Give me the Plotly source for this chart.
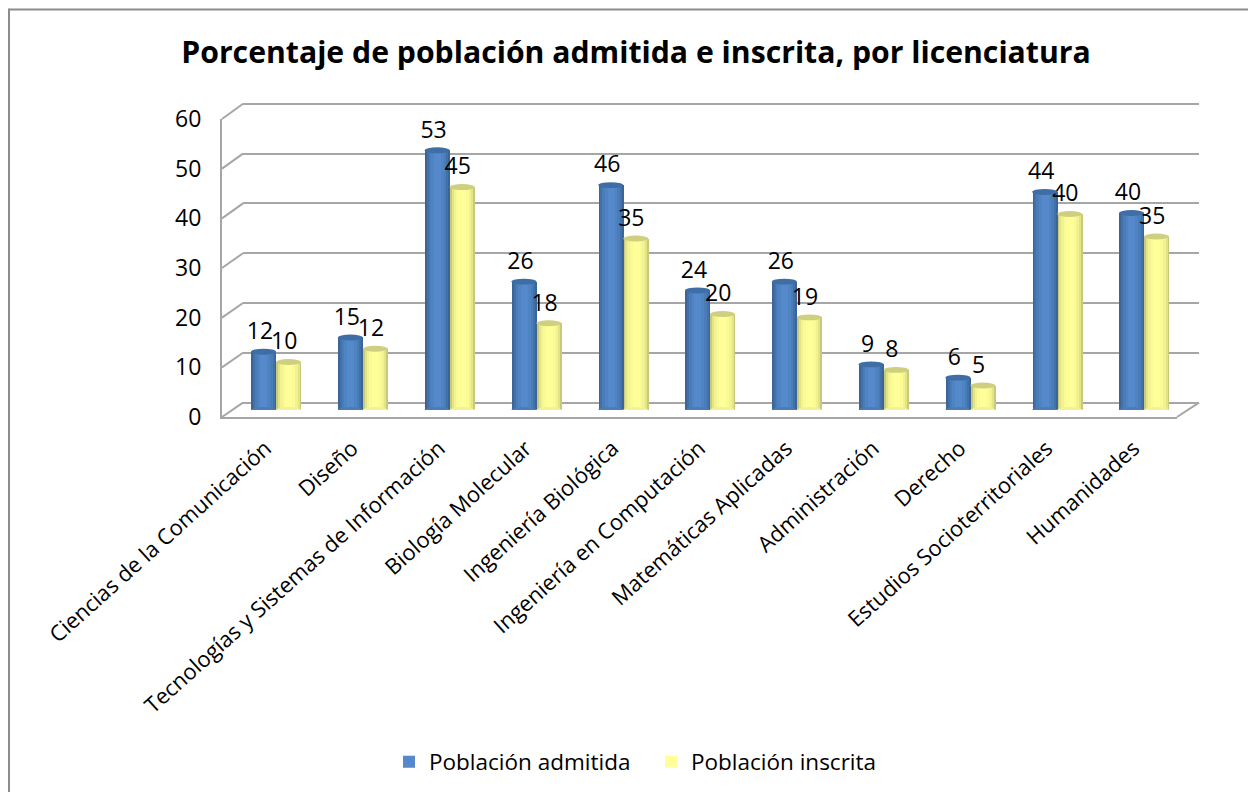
import plotly.graph_objects as go

categories = ["Ciencias de la Comunicación", "Diseño", "Tecnologías y Sistemas de Información",
              "Biología Molecular", "Ingeniería Biológica", "Ingeniería en Computación",
              "Matemáticas Aplicadas", "Administración", "Derecho",
              "Estudios Socioterritoriales", "Humanidades"]
admitida = [11.9, 14.8, 53.0, 26.2, 45.9, 24.4, 26.2, 9.3, 6.6, 44.5, 40.2]
inscrita = [9.8, 12.5, 45.5, 17.7, 35.0, 19.6, 18.9, 8.2, 5.0, 40.0, 35.4]
admitida_labels = ["12", "15", "53", "26", "46", "24", "26", "9", "6", "44", "40"]
inscrita_labels = ["10", "12", "45", "18", "35", "20", "19", "8", "5", "40", "35"]
y_ticks = [0, 10, 20, 30, 40, 50, 60]

W, H = 1248, 792
FONT = "Open Sans"
TXT = "#000000"
GRID = "#a6a6a6"
idx = list(range(len(categories)))

def px(v): return v / W
def py(v): return 1 - v / H

fig = go.Figure()
n = len(categories)
CW = 86.8
BAR_W = 25 / CW
BLUE_LAYERS = ["#3a6596", "#4270a8", "#4a7cb8", "#4f84c3", "#5589cc"]
YEL_LAYERS = ["#c9c97c", "#e3e388", "#f2f290", "#fbfb96", "#ffff99"]
SCALES = [1.0, 0.86, 0.7, 0.5, 0.28]

fig.add_trace(go.Scatter(x=[0], y=[0], xaxis="x", yaxis="y", mode="markers",
                         marker=dict(opacity=0), showlegend=False, hoverinfo="skip"))
fig.add_trace(go.Scatter(x=[0], y=[0], xaxis="x2", yaxis="y2", mode="markers",
                         marker=dict(opacity=0), showlegend=False, hoverinfo="skip"))

def add_cyl(vals, name, layers, center):
    for k, (c, s) in enumerate(zip(layers, SCALES)):
        w = BAR_W * s
        fig.add_trace(go.Bar(x=idx, y=vals, width=w, offset=center - w / 2,
                             marker=dict(color=c, line=dict(width=0)), name=name,
                             showlegend=(k == len(layers) - 1), xaxis="x3", yaxis="y3",
                             hoverinfo="skip"))

add_cyl(admitida, "Población admitida", BLUE_LAYERS, -BAR_W / 2)
add_cyl(inscrita, "Población inscrita", YEL_LAYERS, BAR_W / 2)

LABEL_LIFT = 1.4
fig.add_trace(go.Scatter(x=[i - 0.04 - BAR_W / 2 for i in idx], y=[v + LABEL_LIFT for v in admitida],
                         text=admitida_labels, mode="text", textposition="top center", showlegend=False,
                         xaxis="x3", yaxis="y3", hoverinfo="skip",
                         textfont=dict(family=FONT, size=23, color=TXT), cliponaxis=False))
fig.add_trace(go.Scatter(x=[i - 0.05 + BAR_W / 2 for i in idx], y=[v + LABEL_LIFT for v in inscrita],
                         text=inscrita_labels, mode="text", textposition="top center", showlegend=False,
                         xaxis="x3", yaxis="y3", hoverinfo="skip",
                         textfont=dict(family=FONT, size=23, color=TXT), cliponaxis=False))

shapes = []
CAP = 0.6
for vals, fill, base, center in [(admitida, "#3f6ea6", "#4a7cb8", -BAR_W / 2),
                                 (inscrita, "#cfcf80", "#f2f290", BAR_W / 2)]:
    for i, v in zip(idx, vals):
        shapes.append(dict(type="circle", xref="x3", yref="y3", x0=i + center - BAR_W / 2,
                           x1=i + center + BAR_W / 2, y0=v - CAP, y1=v + CAP,
                           fillcolor=fill, line=dict(width=0), layer="above"))
        shapes.append(dict(type="circle", xref="x3", yref="y3", x0=i + center - BAR_W / 2,
                           x1=i + center + BAR_W / 2, y0=-CAP, y1=CAP,
                           fillcolor=base, line=dict(width=0), layer="above"))

FX0, FX1, FY0, FSTEP = 222, 1177, 417, 49.67
BX0, BX1, BY0, BSTEP = 243, 1199, 402.6, 49.8
for k, t in enumerate(y_ticks):
    shapes.append(dict(type="line", xref="paper", yref="paper", x0=px(FX0), x1=px(BX0),
                       y0=py(FY0 - k * FSTEP), y1=py(BY0 - k * BSTEP),
                       line=dict(color=GRID, width=2), layer="below"))
shapes.append(dict(type="line", xref="paper", yref="paper", x0=px(FX1), x1=px(BX1),
                   y0=py(FY0), y1=py(BY0), line=dict(color=GRID, width=2), layer="below"))
# chart frame: only the top and left edges fall inside the picture
shapes.append(dict(type="line", xref="paper", yref="paper", x0=px(9), x1=1, y0=py(9.5), y1=py(9.5),
                   line=dict(color="#8c8c8c", width=2), layer="below"))
shapes.append(dict(type="line", xref="paper", yref="paper", x0=px(9), x1=px(9), y0=py(8.5), y1=py(792),
                   line=dict(color="#8c8c8c", width=2), layer="below"))

def ydom(top, bottom): return [1 - bottom / H, 1 - top / H]
def xdom(l, r): return [l / W, r / W]

common = dict(showgrid=False, zeroline=False, showline=False, showticklabels=False, ticks="")
PAD = 1  # axis units kept free above 60 so that the top gridline is not clipped
fig.update_layout(
    width=W, height=H, margin=dict(l=0, r=0, t=0, b=0, autoexpand=False),
    paper_bgcolor="white", plot_bgcolor="rgba(0,0,0,0)", barmode="overlay", bargap=0,
    font=dict(family=FONT, size=20, color=TXT),
    title=dict(text="<b>Porcentaje de población admitida e inscrita, por licenciatura</b>",
               x=636 / W, xanchor="center", y=1 - 52 / H, yanchor="middle",
               font=dict(family=FONT, size=30.2, color=TXT)),
    xaxis=dict(domain=xdom(BX0, BX1), range=[-0.5, n - 0.5], anchor="y", **common),
    yaxis=dict(domain=ydom(BY0 - (60 + PAD) / 10 * BSTEP, BY0), range=[0, 60 + PAD], anchor="x", showgrid=True,
               gridcolor=GRID, gridwidth=2, zeroline=True, zerolinecolor=GRID, zerolinewidth=2, showline=False,
               showticklabels=False, ticks="", tickmode="array", tickvals=y_ticks),
    xaxis2=dict(domain=xdom(FX0, FX1), range=[-0.5, n - 0.5], anchor="y2", tickmode="array", tickvals=idx,
                ticktext=categories, tickangle=-42, showgrid=False, zeroline=False, showline=True,
                linecolor=GRID, linewidth=2, ticks="", ticklen=0, ticklabelstandoff=8,
                tickfont=dict(family=FONT, size=21.9, color=TXT)),
    yaxis2=dict(domain=ydom(FY0 - 6 * FSTEP, FY0), range=[0, 60], anchor="x2", tickmode="array", tickvals=y_ticks,
                showgrid=False, zeroline=False, showline=True, linecolor=GRID, linewidth=2, ticks="",
                ticklabelstandoff=14, tickfont=dict(family=FONT, size=23, color=TXT)),
    xaxis3=dict(domain=xdom(276 - CW / 2, 276 + CW * (n - 0.5)), range=[-0.5, n - 0.5], anchor="y3", **common),
    yaxis3=dict(domain=ydom(410 - 60 * 4.9, 410), range=[0, 60], anchor="x3", **common),
    shapes=shapes,
    legend=dict(orientation="h", x=389 / W, y=py(762), xanchor="left", yanchor="middle",
                entrywidth=217, entrywidthmode="pixels",
                font=dict(family=FONT, size=22.5, color=TXT), bgcolor="rgba(0,0,0,0)", traceorder="normal"),
)

fig.write_html("out.html", config={"displayModeBar": False},
               post_script="document.body.style.margin='0';")
